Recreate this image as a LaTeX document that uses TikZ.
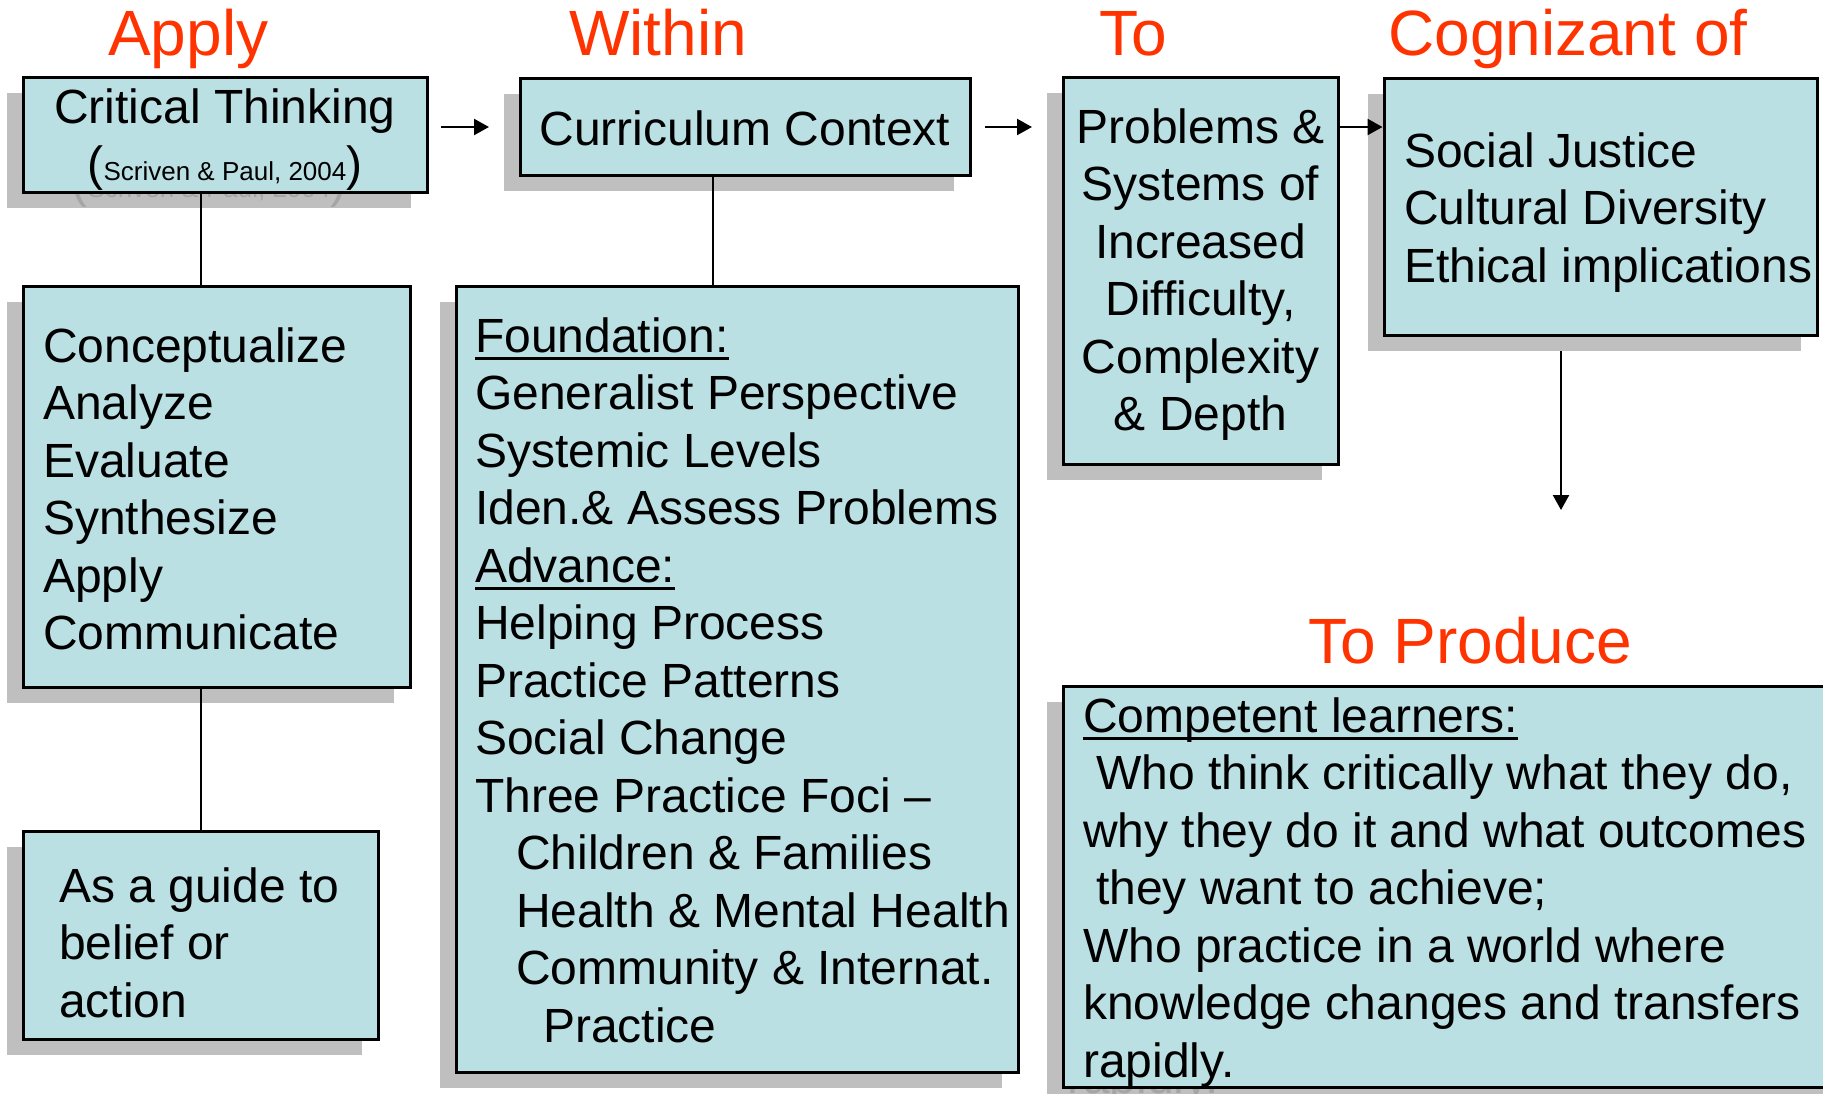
\documentclass[tikz,border=0pt]{standalone}
\usepackage{fontspec}
\setmainfont{Liberation Sans}
\usetikzlibrary{arrows.meta}
\definecolor{boxfill}{RGB}{186,224,228}
\definecolor{shadowgray}{RGB}{191,191,191}
\definecolor{ghostgray}{RGB}{165,165,165}
\definecolor{titlered}{RGB}{255,51,0}
\newcommand\myul[1]{\setbox0\hbox{#1}\rlap{\rule[-7.5pt]{\wd0}{3pt}}\box0}
\newcommand\bfnt{\fontsize{48}{57.5}\selectfont}
\newcommand\smfnt{\fontsize{26}{30}\selectfont}
\newcommand\linesL[1]{\begin{tabular}[t]{@{}l@{}}#1\end{tabular}}
\newcommand\linesC[1]{\begin{tabular}[t]{@{}c@{}}#1\end{tabular}}
\tikzset{
  boxst/.style={draw=black, line width=3pt, fill=boxfill, inner sep=0pt},
  shad/.style={fill=shadowgray, inner sep=0pt, xshift=-16pt, yshift=-16pt},
  txt/.style={inner sep=0pt, font=\bfnt, text=black},
  ghost/.style={inner sep=0pt, font=\bfnt, text=ghostgray, xshift=-16pt, yshift=-16pt},
  ttl/.style={inner sep=0pt, font=\fontsize{64}{70}\selectfont, text=titlered, anchor=base west},
  conn/.style={draw=black, line width=2.3pt},
  arr/.style={conn, -{Triangle[length=15pt,width=16pt]}}
}
\begin{document}
\begin{tikzpicture}[x=1pt,y=-1pt]
\useasboundingbox (0,0) rectangle (1823,1093);
% titles
\node[ttl] (tapply) at (108,55) {Apply};
\node[ttl] (twithin) at (569,55) {Within};
\node[ttl] (tto) at (1099,55) {To};
\node[ttl] (tcog) at (1388,55) {Cognizant of};
\node[ttl] (tprod) at (1308,663) {To Produce};
% shadows
\node[shad, minimum width=404pt, minimum height=115pt] (critsh) at (225,134.5) {};
\node[shad, minimum width=387pt, minimum height=401pt] (concsh) at (216.5,486.5) {};
\node[shad, minimum width=355pt, minimum height=208pt] (guidesh) at (200.5,935) {};
\node[shad, minimum width=450pt, minimum height=97pt] (currsh) at (745,126.5) {};
\node[shad, minimum width=562pt, minimum height=786pt] (foundsh) at (737,679) {};
\node[shad, minimum width=275pt, minimum height=387pt] (probsh) at (1200.5,270.5) {};
\node[shad, minimum width=433pt, minimum height=257pt] (socsh) at (1600.5,206.5) {};
\node[shad, minimum width=780pt, minimum height=401pt] (compsh) at (1453,886.5) {};
% ghost (shadow) texts, visible only below their boxes
\node[ghost, anchor=base] (critg) at (225,181) {(\smfnt Scriven \& Paul, 2004\bfnt)};
\node[ghost, anchor=base west] (compg) at (1083,1077) {rapidly.};
% boxes
\node[boxst, minimum width=404pt, minimum height=115pt] (crit) at (225,134.5) {};
\node[boxst, minimum width=387pt, minimum height=401pt] (conc) at (216.5,486.5) {};
\node[boxst, minimum width=355pt, minimum height=208pt] (guide) at (200.5,935) {};
\node[boxst, minimum width=450pt, minimum height=97pt] (curr) at (745,126.5) {};
\node[boxst, minimum width=562pt, minimum height=786pt] (found) at (737,679) {};
\node[boxst, minimum width=275pt, minimum height=387pt] (prob) at (1200.5,270.5) {};
\node[boxst, minimum width=433pt, minimum height=257pt] (soc) at (1600.5,206.5) {};
\node[boxst, minimum width=780pt, minimum height=401pt] (comp) at (1453,886.5) {};
% texts
\node[txt, anchor=base] (critt) at (225,123) {\linesC{Critical Thinking\\(\smfnt Scriven \& Paul, 2004\bfnt)}};
\node[txt, anchor=base west] (conct) at (43,362) {\linesL{Conceptualize\\Analyze\\Evaluate\\Synthesize\\Apply\\Communicate}};
\node[txt, anchor=base west] (guidet) at (59,902) {\linesL{As a guide to\\belief or\\action}};
\node[txt, anchor=base] (currt) at (745,145) {Curriculum Context};
\node[txt, anchor=base west] (foundt) at (475,352) {\linesL{\myul{Foundation:}\\
  Generalist Perspective\\
  Systemic Levels\\
  Iden.\& Assess Problems\\
  \myul{Advance:}\\
  Helping Process\\
  Practice Patterns\\
  Social Change\\
  Three Practice Foci --\\
  \hspace{41pt}Children \& Families\\
  \hspace{41pt}Health \& Mental Health\\
  \hspace{41pt}Community \& Internat.\\
  \hspace{68pt}Practice}};
\node[txt, anchor=base] (probt) at (1200.5,143) {\linesC{Problems \&\\Systems of\\Increased\\Difficulty,\\Complexity\\\& Depth}};
\node[txt, anchor=base west] (soct) at (1404,167) {\linesL{Social Justice\\Cultural Diversity\\Ethical implications}};
\node[txt, anchor=base west] (compt) at (1083,732) {\linesL{\myul{Competent learners:}\\
  \hspace{13pt}Who think critically what they do,\\
  why they do it and what outcomes\\
  \hspace{13pt}they want to achieve;\\
  Who practice in a world where\\
  knowledge changes and transfers\\
  rapidly.}};
% connectors
\coordinate (vl) at (201,0);
\coordinate (vm) at (713,0);
\coordinate (ay) at (0,127);
\coordinate (a1s) at (441,127);
\coordinate (a1e) at (489,127);
\coordinate (a2s) at (985,127);
\coordinate (a2e) at (1032,127);
\coordinate (dtip) at (1561,510);
\draw[conn] (crit.south -| vl) -- (conc.north -| vl);
\draw[conn] (conc.south -| vl) -- (guide.north -| vl);
\draw[conn] (curr.south -| vm) -- (found.north -| vm);
\draw[arr] (a1s) -- (a1e);
\draw[arr] (a2s) -- (a2e);
\draw[arr] (prob.east |- ay) -- (soc.west |- ay);
\draw[arr] (dtip |- socsh.south) -- (dtip);
\end{tikzpicture}
\end{document}
